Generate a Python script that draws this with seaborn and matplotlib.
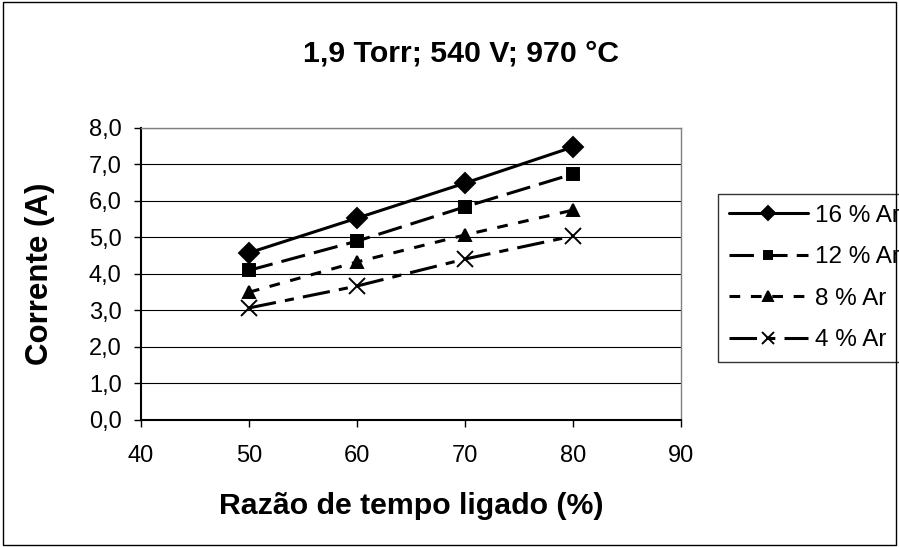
"""Corrente vs razão de tempo ligado para diferentes teores de Ar."""

import matplotlib.pyplot as plt
import matplotlib.patches as patches
import pandas as pd
import seaborn as sns

# Data
razao = [50, 60, 70, 80]
ar16 = [4.58, 5.53, 6.49, 7.48]
ar12 = [4.10, 4.90, 5.84, 6.74]
ar8 = [3.50, 4.33, 5.07, 5.75]
ar4 = [3.07, 3.67, 4.41, 5.04]
series_names = ["16 % Ar", "12 % Ar", "8 % Ar", "4 % Ar"]

df = pd.DataFrame({
    "razao": razao * 4,
    "corrente": ar16 + ar12 + ar8 + ar4,
    "serie": [n for n in series_names for _ in razao],
})

sns.set_style("white")
plt.rcParams["font.family"] = ["Liberation Sans", "DejaVu Sans"]
plt.rcParams["text.color"] = "black"
plt.rcParams["axes.labelcolor"] = "black"
plt.rcParams["xtick.color"] = "black"
plt.rcParams["ytick.color"] = "black"

fig = plt.figure(figsize=(8.99, 5.47), dpi=100)
ax = fig.add_axes([0.1568, 0.2322, 0.6007, 0.5338])

styles = {
    "16 % Ar": dict(marker="D", markersize=10, dashes=None),
    "12 % Ar": dict(marker="s", markersize=8.5, dashes=(8, 3)),
    "8 % Ar": dict(marker="^", markersize=9, dashes=(3.5, 3.5)),
    "4 % Ar": dict(marker="x", markersize=12, dashes=(9, 3, 3, 3)),
}

for name in series_names:
    st = styles[name]
    sns.lineplot(data=df[df["serie"] == name], x="razao", y="corrente",
                 ax=ax, label=name, color="black", linewidth=2.2,
                 marker=st["marker"], markersize=st["markersize"],
                 markeredgewidth=1.4, markeredgecolor="black",
                 markerfacecolor="black")
    if st["dashes"] is not None:
        ax.lines[-1].set_dashes(st["dashes"])

ax.set_xlim(40, 90)
ax.set_ylim(0, 8)
ax.set_xticks([40, 50, 60, 70, 80, 90])
ax.set_yticks([0, 1, 2, 3, 4, 5, 6, 7, 8])
ax.set_yticklabels([f"{v:.1f}".replace(".", ",") for v in range(9)])
ax.yaxis.grid(True, color="black", linewidth=0.8)
ax.xaxis.grid(False)
ax.set_axisbelow(True)
ax.tick_params(axis="both", direction="out", length=5, width=1, labelsize=17,
               colors="black", left=True, bottom=True)
ax.tick_params(axis="x", pad=13)
ax.tick_params(axis="y", pad=9)
for side in ["top", "right"]:
    ax.spines[side].set_color("#808080")
    ax.spines[side].set_linewidth(1)
for side in ["left", "bottom"]:
    ax.spines[side].set_color("black")
    ax.spines[side].set_linewidth(1.5)

ax.set_xlabel("")
ax.set_ylabel("")
fig.text(0.4577, 0.075, "Razão de tempo ligado (%)", ha="center",
         va="center", fontsize=21.8, fontweight="bold")
fig.text(0.044, 0.499, "Corrente (A)", ha="center", va="center",
         rotation=90, fontsize=22.5, fontweight="bold")
fig.text(0.5133, 0.903, "1,9 Torr; 540 V; 970 °C", ha="center", va="center",
         fontsize=21.8, fontweight="bold")

leg = ax.legend(loc="upper left", bbox_to_anchor=(0.7987, 0.6453),
                bbox_transform=fig.transFigure, frameon=True, fontsize=17.5,
                handlelength=3.25, handletextpad=0.3, borderpad=0.45,
                labelspacing=0.8, fancybox=False, borderaxespad=0,
                markerscale=0.75)
leg.get_frame().set_edgecolor("black")
leg.get_frame().set_linewidth(1)

fig.patches.append(patches.Rectangle((0.003, 0.004), 0.994, 0.992,
                                     transform=fig.transFigure, fill=False,
                                     edgecolor="black", linewidth=1))

fig.savefig("out.png", dpi=100)
